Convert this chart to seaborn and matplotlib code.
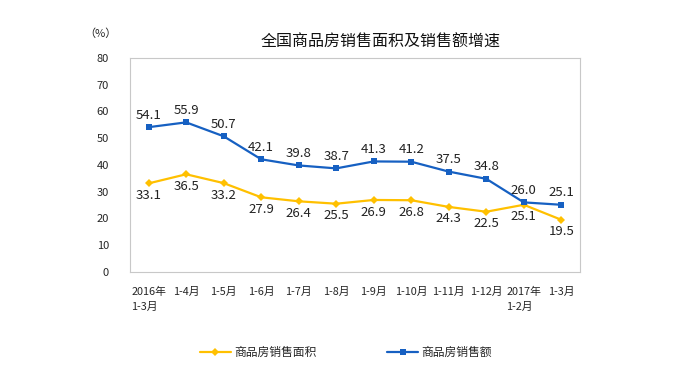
import matplotlib
matplotlib.use("Agg")
import matplotlib.pyplot as plt
import seaborn as sns
import pandas as pd
import numpy as np

periods = ["2016年\n1-3月", "1-4月", "1-5月", "1-6月", "1-7月", "1-8月",
           "1-9月", "1-10月", "1-11月", "1-12月", "2017年\n1-2月", "1-3月"]
area_growth = [33.1, 36.5, 33.2, 27.9, 26.4, 25.5, 26.9, 26.8, 24.3, 22.5, 25.1, 19.5]
sales_growth = [54.1, 55.9, 50.7, 42.1, 39.8, 38.7, 41.3, 41.2, 37.5, 34.8, 26.0, 25.1]
yticks = [0, 10, 20, 30, 40, 50, 60, 70, 80]

area_name = "商品房销售面积"
sales_name = "商品房销售额"
yellow = "#FFC000"
blue = "#1660C2"

sns.set_theme(style="white")
plt.rcParams["font.family"] = ["Noto Sans CJK SC", "DejaVu Sans"]

df = pd.DataFrame({"pos": np.arange(len(periods)),
                   area_name: area_growth, sales_name: sales_growth})

fig = plt.figure(figsize=(6.8, 3.71), dpi=100)
ax = fig.add_axes([0.191, 0.267, 0.662, 0.577])

sns.lineplot(data=df, x="pos", y=area_name, ax=ax, color=yellow, lw=1.6,
             marker="D", markersize=4, markeredgewidth=0, label=area_name)
sns.lineplot(data=df, x="pos", y=sales_name, ax=ax, color=blue, lw=1.6,
             marker="s", markersize=5, markeredgewidth=0, label=sales_name)

for i, v in enumerate(sales_growth):
    ax.annotate(f"{v:.1f}", (i, v), xytext=(0, 4), textcoords="offset points",
                ha="center", va="bottom", fontsize=9.5, color="#222222")
for i, v in enumerate(area_growth):
    ax.annotate(f"{v:.1f}", (i, v), xytext=(0, -4), textcoords="offset points",
                ha="center", va="top", fontsize=9.5, color="#222222")

ax.set_xlim(-0.5, len(periods) - 0.5)
ax.set_ylim(0, 80)
ax.set_yticks(yticks)
ax.set_yticklabels([str(t) for t in yticks], fontsize=8)
ax.set_xticks(np.arange(len(periods)))
ax.set_xticklabels(periods, fontsize=7.8, linespacing=1.5, va="top")
ax.set_xticks(np.arange(len(periods) + 1) - 0.5, minor=True)
ax.tick_params(axis="x", which="major", length=0, pad=11)
ax.tick_params(axis="x", which="minor", length=3, color="#bbbbbb", width=0.8)
ax.tick_params(axis="y", length=0, pad=15)
for lbl in ax.get_xticklabels():
    lbl.set_multialignment("left")
ax.set_xlabel("")
ax.set_ylabel("")
for s in ax.spines.values():
    s.set_color("#c8c8c8")
    s.set_linewidth(0.8)

ax.legend(loc="center", bbox_to_anchor=(0.48, -0.375), ncol=2, frameon=False,
          fontsize=8.5, handlelength=2.6, handletextpad=0.3, columnspacing=6)

fig.text(0.559, 0.886, "全国商品房销售面积及销售额增速", ha="center", va="center",
         fontsize=11.5, color="#111111")
fig.text(0.148, 0.91, "（%）", ha="center", va="center", fontsize=8)

fig.savefig("out.png", dpi=100)
